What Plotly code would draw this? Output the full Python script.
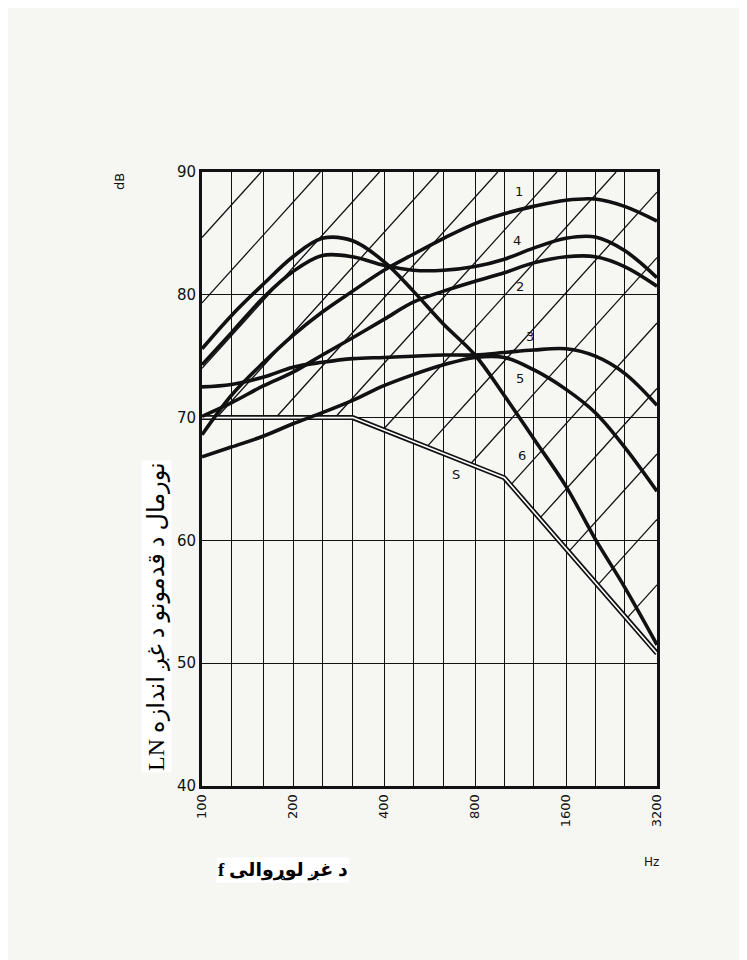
import numpy as np
import plotly.graph_objects as go

# third-octave frequencies (Hz) where curves were read
FREQ = [100, 125, 160, 200, 250, 315, 400, 500, 630, 800, 1000, 1250, 1600, 2000, 2500, 3200]

curve_1 = [68.6, 71.8, 74.5, 76.7, 78.6, 80.3, 82.0, 83.3, 84.6, 85.8, 86.6, 87.2, 87.7, 87.8, 87.2, 86.0]
curve_2 = [70.1, 71.2, 72.6, 73.7, 75.1, 76.5, 78.0, 79.4, 80.3, 81.1, 81.8, 82.6, 83.1, 83.1, 82.3, 80.7]
curve_3 = [72.5, 72.7, 73.3, 74.1, 74.5, 74.8, 74.9, 75.0, 75.1, 75.1, 75.3, 75.5, 75.6, 75.0, 73.6, 71.0]
curve_4 = [74.3, 76.9, 79.8, 81.9, 83.2, 83.1, 82.4, 82.0, 82.0, 82.3, 82.9, 83.8, 84.6, 84.7, 83.6, 81.4]
curve_5 = [66.8, 67.6, 68.5, 69.5, 70.4, 71.4, 72.6, 73.5, 74.3, 74.9, 74.9, 73.9, 72.3, 70.4, 67.6, 64.0]
curve_6 = [75.6, 78.3, 80.9, 83.1, 84.6, 84.4, 82.7, 80.3, 77.6, 75.1, 71.8, 68.3, 64.4, 60.1, 56.2, 51.5]

# limit curve S
S_FREQ = [100, 315, 1000, 3200]
S_DB = [70, 70, 65.1, 50.8]

TICK_LABELS = ["100", "", "", "200", "", "", "400", "", "", "800", "", "", "1600", "", "", "3200"]

# hatching above S: slope in dB per octave, spacing in octaves along the 90 dB line
HATCH_SLOPE = 8.2
HATCH_STEP = 0.65

INK = "#111111"
PAPER = "#f6f6f3"

fig = go.Figure()

# hatch lines, clipped to the region between S and 90 dB
u = np.linspace(0, 5, 1001)
s_line = np.interp(u, np.log2(np.array(S_FREQ) / 100), S_DB)
hx, hy = [], []
for n in range(0, 17):
    y = 90 + HATCH_SLOPE * u - n * HATCH_STEP * HATCH_SLOPE
    keep = (y <= 90.0001) & (y >= s_line)
    if keep.sum() < 2:
        continue
    hx += list(100 * 2 ** u[keep]) + [None]
    hy += list(y[keep]) + [None]
fig.add_trace(go.Scatter(x=hx, y=hy, mode="lines", line=dict(color=INK, width=1.3),
                         hoverinfo="skip", showlegend=False))

# S curve as a double line
fig.add_trace(go.Scatter(x=S_FREQ, y=S_DB, mode="lines", line=dict(color=INK, width=5),
                         showlegend=False))
fig.add_trace(go.Scatter(x=S_FREQ, y=S_DB, mode="lines", line=dict(color="#ffffff", width=1.6),
                         showlegend=False))

for name, vals in [("1", curve_1), ("2", curve_2), ("3", curve_3),
                   ("4", curve_4), ("5", curve_5), ("6", curve_6)]:
    fig.add_trace(go.Scatter(x=FREQ, y=vals, mode="lines", name=name,
                             line=dict(color=INK, width=3.6, shape="spline", smoothing=1),
                             showlegend=False))

# curve labels
for txt, fx, fy in [("1", 1120, 88.4), ("4", 1100, 84.4), ("2", 1130, 80.7), ("3", 1220, 76.6),
                    ("5", 1130, 73.2), ("6", 1140, 66.9), ("S", 690, 65.4)]:
    fig.add_annotation(x=np.log10(fx), y=fy, text=txt, showarrow=False,
                       font=dict(family="DejaVu Sans", size=13, color=INK))

fig.add_annotation(xref="paper", yref="paper", x=-0.18, y=0.984, text="dB", textangle=-90,
                   xanchor="center", yanchor="middle", showarrow=False,
                   font=dict(family="DejaVu Sans", size=13, color=INK))
fig.add_annotation(xref="paper", yref="paper", x=0.989, y=-0.124, text="Hz",
                   xanchor="center", yanchor="middle", showarrow=False,
                   font=dict(family="DejaVu Sans", size=12, color=INK))
fig.add_annotation(xref="paper", yref="paper", x=-0.099, y=0.277,
                   text="LN نورمال د قدمونو د غږ اندازه", textangle=-90, showarrow=False,
                   xanchor="center", yanchor="middle", bgcolor="#ffffff",
                   font=dict(family="Liberation Serif, DejaVu Sans", size=24, color="#000000"))
fig.add_annotation(xref="paper", yref="paper", x=0.178, y=-0.137,
                   text="<b>f د غږ لوړوالی</b>", showarrow=False, bgcolor="#ffffff",
                   xanchor="center", yanchor="middle",
                   font=dict(family="Liberation Serif, DejaVu Sans", size=19, color="#000000"))

fig.update_xaxes(type="log", range=[2, np.log10(3200)], tickvals=FREQ, ticktext=TICK_LABELS,
                 tickangle=-90, showgrid=True, gridcolor=INK, gridwidth=1.4,
                 showline=True, linecolor=INK, linewidth=3, mirror=True, ticks="",
                 tickfont=dict(family="DejaVu Sans", size=13, color=INK), zeroline=False)
fig.update_yaxes(range=[40, 90], tickvals=[40, 50, 60, 70, 80, 90], showgrid=True,
                 gridcolor=INK, gridwidth=1.4, showline=True, linecolor=INK, linewidth=3,
                 mirror=True, ticks="", zeroline=False,
                 tickfont=dict(family="DejaVu Sans", size=15, color=INK))
fig.update_layout(
    width=747,
    height=960,
    margin=dict(l=194, r=98, t=164, b=182),
    paper_bgcolor=PAPER,
    plot_bgcolor=PAPER,
    showlegend=False,
)

fig.write_html("out.html")
